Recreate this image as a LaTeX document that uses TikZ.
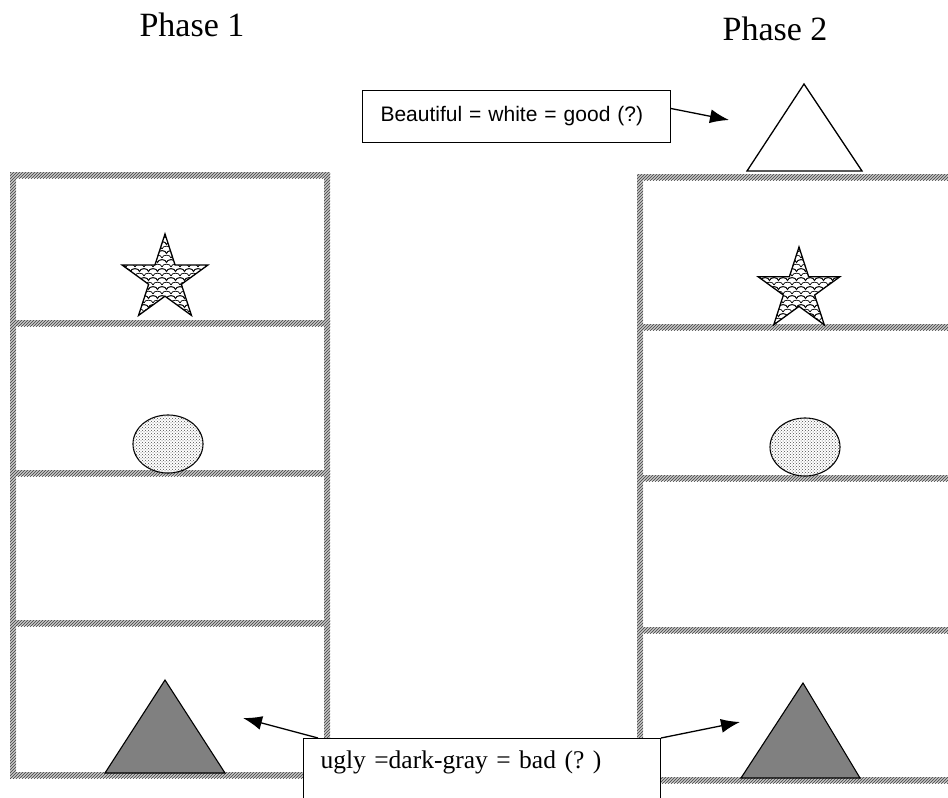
\documentclass[tikz,border=0pt]{standalone}
\usepackage{fontspec}
\setmainfont{Liberation Serif}
\newfontfamily\arialfont{Liberation Sans}
\usetikzlibrary{patterns,arrows.meta,calc}

% scale-like fill used for the stars
\pgfdeclarepatternformonly{fishscales}{\pgfqpoint{-4.5pt}{-0.5pt}}{\pgfqpoint{13.5pt}{9.5pt}}{\pgfqpoint{9pt}{9pt}}{
  \pgfsetlinewidth{0.7pt}
  \pgfpathmoveto{\pgfqpoint{0pt}{0pt}}
  \pgfpathcurveto{\pgfqpoint{0.7pt}{3.8pt}}{\pgfqpoint{8.3pt}{3.8pt}}{\pgfqpoint{9pt}{0pt}}
  \pgfpathmoveto{\pgfqpoint{-4.5pt}{4.5pt}}
  \pgfpathcurveto{\pgfqpoint{-3.8pt}{8.3pt}}{\pgfqpoint{3.8pt}{8.3pt}}{\pgfqpoint{4.5pt}{4.5pt}}
  \pgfpathcurveto{\pgfqpoint{5.2pt}{8.3pt}}{\pgfqpoint{12.8pt}{8.3pt}}{\pgfqpoint{13.5pt}{4.5pt}}
  \pgfusepath{stroke}
}

\tikzset{
  shelf/.style={fill=gray!45, postaction={pattern=north east lines, pattern color=black!75}},
  starfill/.style={draw=black, line width=1.3pt, line join=miter, fill=white,
                   postaction={pattern=fishscales, pattern color=black}},
  dotfill/.style={draw=black, line width=1.1pt, fill=white,
                  postaction={pattern=crosshatch dots, pattern color=black!70}},
  darktri/.style={draw=black, line width=1.1pt, fill=black!50},
  whitetri/.style={draw=black, line width=1.3pt, fill=white},
  phaselabel/.style={font=\fontsize{34}{40}\selectfont, anchor=base, inner sep=0pt},
  notebox/.style={draw=black, line width=1pt, fill=white},
  pointer/.style={line width=1.3pt, -{Latex[length=19pt,width=14pt]}}
}

\begin{document}
\frenchspacing
\begin{tikzpicture}[x=1pt,y=-1pt]
\useasboundingbox[fill=white] (0,0) rectangle (948,798);

% headings
\node[phaselabel] (ph1) at (192,36) {Phase 1};
\node[phaselabel] (ph2) at (775,40) {Phase 2};

% left shelving unit
\foreach \yy in {175,323,473,623,775}
  \fill[shelf] (10,\yy-3) rectangle (330,\yy+3);
\fill[shelf] (10,172) rectangle (16,778);
\fill[shelf] (324,172) rectangle (330,778);

% right shelving unit
\foreach \yy in {177,327,478,630,780}
  \fill[shelf] (637,\yy-3) rectangle (948,\yy+3);
\fill[shelf] (637,174) rectangle (643,783);

% stars on the top shelves
\begin{scope}[shift={(165,279)}]
  \draw[starfill] (-90:45) -- (-54:17.2) -- (-18:45) -- (18:17.2) -- (54:45)
    -- (90:17.2) -- (126:45) -- (162:17.2) -- (198:45) -- (234:17.2) -- cycle;
\end{scope}
\begin{scope}[shift={(799,290)}]
  \draw[starfill] (-90:43) -- (-54:16.4) -- (-18:43) -- (18:16.4) -- (54:43)
    -- (90:16.4) -- (126:43) -- (162:16.4) -- (198:43) -- (234:16.4) -- cycle;
\end{scope}

% dotted discs on the second shelves
\draw[dotfill] (168,444) ellipse [x radius=35, y radius=29];
\draw[dotfill] (805,447) ellipse [x radius=35, y radius=29];

% dark triangles on the bottom shelves
\draw[darktri] (165,680) -- (225,773) -- (105,773) -- cycle;
\draw[darktri] (803,683) -- (860,778) -- (741,778) -- cycle;

% white triangle standing on top of the right unit
\draw[whitetri] (804,84) -- (862,171) -- (747,171) -- cycle;

% captions
\node[notebox, anchor=north west, minimum height=52pt, text width=272pt,
      inner xsep=18pt, align=left, font=\arialfont\fontsize{21}{25}\selectfont]
  (good) at (362,90) {Beautiful = white = good (?)};
\node[notebox, anchor=north west, text width=323pt, inner xsep=17pt,
      inner ysep=8pt, text height=22pt, text depth=45pt, align=left,
      font=\fontsize{25.5}{30}\selectfont]
  (bad) at (303,738) {ugly =dark-gray = bad (? )};

% pointers
\coordinate (goodtip) at (729,120);
\coordinate (badtipL) at (243,718);
\coordinate (badtipR) at (740,722);
\draw[pointer] ($(good.east)+(0,-8)$) -- (goodtip);
\draw[pointer] ($(bad.north west)+(15,0)$) -- (badtipL);
\draw[pointer] (bad.north east) -- (badtipR);
\end{tikzpicture}
\end{document}
